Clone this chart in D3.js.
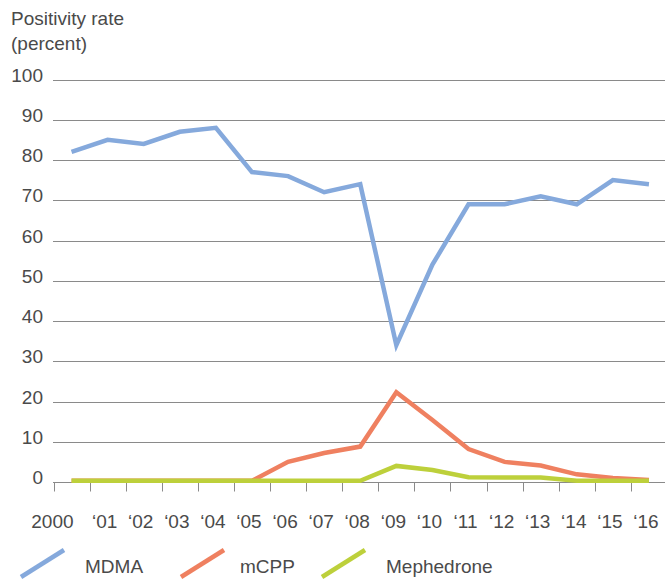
<!DOCTYPE html>
<html>
<head>
  <meta charset="utf-8">
  <script src="https://cdnjs.cloudflare.com/ajax/libs/d3/7.8.5/d3.min.js"></script>
  <title>Positivity rate</title>
  <style>
    body { margin: 0; background: #fff; }
    text { font-family: "Liberation Sans", Arial, sans-serif; fill: #4a4a4a; }
  </style>
</head>
<body>
<script>
// data
const years = ["2000","01","02","03","04","05","06","07","08","09","10","11","12","13","14","15","16"];
const mdma = [82, 85, 84, 87, 88, 77, 76, 72, 74, 34, 54, 69, 69, 71, 69, 75, 74];
const mcpp = [0.3, 0.3, 0.3, 0.3, 0.3, 0.3, 5, 7.2, 8.8, 22.3, 15.4, 8.2, 5, 4.1, 1.9, 1, 0.5];
const mephedrone = [0.3, 0.3, 0.3, 0.3, 0.3, 0.3, 0.3, 0.3, 0.3, 4, 3, 1.2, 1.1, 1.1, 0.3, 0.3, 0.3];
const yTicks = [0, 10, 20, 30, 40, 50, 60, 70, 80, 90, 100];

const series = [
  {name: "MDMA", values: mdma, color: "#85a9dc"},
  {name: "mCPP", values: mcpp, color: "#ef8060"},
  {name: "Mephedrone", values: mephedrone, color: "#bdd03b"}
];

const W = 665, H = 581;
const svg = d3.select("body").append("svg")
    .attr("width", W)
    .attr("height", H);

const x = d3.scaleBand()
    .domain(years)
    .range([53.5, 667]);

const y = d3.scaleLinear()
    .domain([0, 100])
    .range([482, 79.5]);

const cx = d => x(d) + x.bandwidth() / 2;

// title
svg.append("text").attr("x", 11).attr("y", 25).style("font-size", "19px").text("Positivity rate");
svg.append("text").attr("x", 11).attr("y", 50).style("font-size", "19px").text("(percent)");

// gridlines
svg.append("g")
  .selectAll("line")
  .data(yTicks.filter(d => d > 0))
  .enter().append("line")
    .attr("x1", 53)
    .attr("x2", W)
    .attr("y1", d => Math.round(y(d)) + 0.5)
    .attr("y2", d => Math.round(y(d)) + 0.5)
    .style("stroke", "#8a8a8a")
    .style("stroke-width", 1);

// y labels
svg.append("g")
  .selectAll("text")
  .data(yTicks)
  .enter().append("text")
    .attr("x", 43)
    .attr("y", d => y(d) + 2)
    .style("text-anchor", "end")
    .style("font-size", "19px")
    .text(d => d);

// x axis
const xAxis = d3.axisBottom(x)
    .tickSize(0)
    .tickFormat("");
const gx = svg.append("g")
    .attr("transform", "translate(0," + (Math.round(y(0)) + 0.5) + ")")
    .call(xAxis);
gx.select(".domain").remove();
gx.append("line")
    .attr("x1", 53).attr("x2", W)
    .style("stroke", "#8a8a8a");
gx.selectAll(".sep")
  .data(years)
  .enter().append("line")
    .attr("class", "sep")
    .attr("x1", d => Math.round(x(d)) + 0.5)
    .attr("x2", d => Math.round(x(d)) + 0.5)
    .attr("y1", 0)
    .attr("y2", 9)
    .style("stroke", "#8a8a8a");

gx.selectAll(".lbl")
  .data(years)
  .enter().append("text")
    .attr("class", "lbl")
    .attr("x", (d, i) => i === 0 ? cx(d) + 2 : cx(d) - 3)
    .attr("y", 45)
    .style("text-anchor", (d, i) => i === 0 ? "end" : "middle")
    .style("font-size", "19px")
    .text((d, i) => i === 0 ? d : "\u2018" + d);

// lines
const line = d3.line()
    .x((v, i) => cx(years[i]))
    .y(v => y(v));

svg.append("g")
  .selectAll("path")
  .data(series)
  .enter().append("path")
    .attr("d", d => line(d.values))
    .style("fill", "none")
    .style("stroke", d => d.color)
    .style("stroke-width", 4.5);

// legend
const legX = [20, 180, 321];
const legText = [65, 60, 65];
const lg = svg.append("g")
  .selectAll("g")
  .data(series)
  .enter().append("g")
    .attr("transform", (d, i) => "translate(" + legX[i] + ",563)");
lg.append("line")
    .attr("x1", 1).attr("y1", 14)
    .attr("x2", 44).attr("y2", -13)
    .style("stroke", d => d.color)
    .style("stroke-width", 4.5);
lg.append("text")
    .attr("x", (d, i) => legText[i])
    .attr("y", 10)
    .style("font-size", "19px")
    .text(d => d.name);
</script>
</body>
</html>
